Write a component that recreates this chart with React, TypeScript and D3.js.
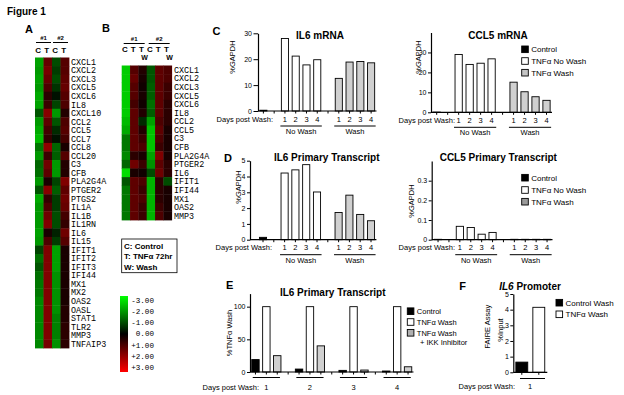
import { useEffect, useRef } from "react"
import * as d3 from "d3"

// heatmap A: columns C #1, T #1, C #2, T #2
const genesA = [
  "CXCL1", "CXCL2", "CXCL3", "CXCL5", "CXCL6", "IL8", "CXCL10", "CCL2", "CCL5", "CCL7", "CCL8",
  "CCL20", "C3", "CFB", "PLA2G4A", "PTGER2", "PTGS2", "IL1A", "IL1B", "IL1RN", "IL6", "IL15",
  "IFIT1", "IFIT2", "IFIT3", "IFI44", "MX1", "MX2", "OAS2", "OASL", "STAT1", "TLR2", "MMP3", "TNFAIP3",
]
const heatA = [
  [-1.9, 1.2, -0.9, 1.0], [-1.8, 1.4, -0.7, 1.0], [-1.9, 1.2, -0.9, 1.1], [-1.8, 0.9, -0.6, 1.2],
  [-2.0, 0.5, -0.2, 1.0], [-1.9, 0.7, -0.8, 0.9], [-1.0, 1.6, -1.8, 0.4], [-1.8, 1.1, -1.0, 0.9],
  [-2.0, 0.8, -0.5, 1.0], [-2.2, 0.6, -0.2, 0.8], [-1.4, 1.7, -1.2, 0.3], [-1.8, 0.7, -1.1, 1.0],
  [-1.2, 1.3, -1.8, 0.4], [-1.3, 1.1, -1.8, 0.4], [-1.8, 0.3, -0.8, 1.5], [-1.0, 1.6, -1.1, 1.1],
  [-2.0, 0.6, -0.7, 1.3], [-1.8, 0.9, -0.7, 1.2], [-1.8, 1.3, -0.9, 0.8], [-1.8, 1.5, -0.9, 0.6],
  [-1.9, 0.3, -0.4, 1.3], [-1.8, 0.9, -0.7, 1.0], [-0.8, 1.5, -1.9, 0.3], [-1.3, 1.5, -1.9, 0.3],
  [-1.0, 1.5, -1.9, 0.3], [-1.3, 1.5, -1.7, 0.3], [-1.4, 1.5, -1.7, 0.3], [-1.4, 1.5, -1.7, 0.3],
  [-1.6, 1.5, -1.7, 0.3], [-1.6, 1.5, -1.7, 0.4], [-1.6, 1.5, -1.5, 0.4], [-1.6, 1.5, -1.5, 0.5],
  [-1.6, 1.5, -1.5, 0.5], [-1.6, 1.4, -1.7, 0.5],
]
const colsA = ["C", "T", "C", "T"]

// heatmap B: columns C, T, T(W) for #1 and #2
const genesB = [
  "CXCL1", "CXCL2", "CXCL3", "CXCL5", "CXCL6", "IL8", "CCL2", "CCL5", "C3", "CFB",
  "PLA2G4A", "PTGER2", "IL6", "IFIT1", "IFI44", "MX1", "OAS2", "MMP3",
]
const heatB = [
  [-2.4, 1.0, 0.4, -1.0, 1.1, 0.9], [-2.4, 1.2, 0.3, -1.0, 1.1, 0.9], [-2.4, 1.0, 0.2, -1.1, 1.1, 0.7],
  [-2.4, 1.0, 0.3, -1.1, 1.1, 0.7], [-2.4, 0.8, 0.2, -1.3, 1.1, 0.5], [-2.4, 1.1, 0.4, -1.1, 1.1, 0.5],
  [-2.2, 1.1, -0.5, -1.9, 0.9, 0.5], [-2.0, 1.1, 0.4, -2.3, 1.1, 0.3], [-1.4, 1.1, 0.7, -2.3, 0.9, 0.3],
  [-1.4, 1.1, 0.9, -2.3, 0.7, 0.3], [-1.6, 0.5, 0.3, -1.9, 1.5, 0.3], [-1.2, 1.3, 0.7, -1.7, 1.1, 0.5],
  [-2.6, 0.3, 0.2, -0.9, 1.3, 0.5], [-1.0, 1.1, 0.9, -2.1, 0.5, -0.9], [-1.4, 1.1, 0.7, -2.1, 0.5, 0.3],
  [-1.4, 1.1, 0.9, -2.1, 0.5, 0.3], [-1.4, 1.1, 0.7, -2.1, 0.7, 0.3], [-1.4, 1.1, 0.7, -2.1, 0.9, 0.3],
]
const colsB = ["C", "T", "T", "C", "T", "T"]
const keyTicks = [-3, -2, -1, 0, 1, 2, 3]

// C / D bar panels
const dayLabels = ["1", "2", "3", "4"]
const il6MrnaControl = 0.3
const il6MrnaNoWash = [28, 21.2, 17.8, 19.8]
const il6MrnaWash = [12.6, 18.9, 19.1, 18.6]
const ccl5MrnaControl = 0.1
const ccl5MrnaNoWash = [29, 24, 24.6, 26.8]
const ccl5MrnaWash = [15.1, 10.3, 7.8, 6.0]
const il6PtControl = 0.15
const il6PtNoWash = [4.22, 4.42, 4.75, 3.02]
const il6PtWash = [1.72, 2.82, 1.6, 1.2]
const ccl5PtControl = 0.002
const ccl5PtNoWash = [0.068, 0.062, 0.028, 0.037]
const ccl5PtWash = [0.002, 0.002, 0.002, 0.002]
const cdLegend = ["Control", "TNFα No Wash", "TNFα Wash"]

// E
const eDays = ["1", "2", "3", "4"]
const eControl = [19, 4.5, 2.5, 1.5]
const eWash = [100, 100, 100, 100]
const eIkk = [25, 40, 3, 8]

// F
const fSeries = ["Control Wash", "TNFα Wash"]
const fValues = [0.65, 4.15]

const sans = "'Liberation Sans', Arial, sans-serif"
const mono = "'Liberation Mono', 'Courier New', monospace"
const grayFill = "#d0d0d0"

export default function App() {
  const svgRef = useRef<SVGSVGElement>(null)

  useEffect(() => {
    if (!svgRef.current) return
    const svg = d3.select(svgRef.current)
    svg.selectAll("*").remove()

    const txt = (x: number, y: number, s: string, size: number, o: any = {}) =>
      svg
        .append("text")
        .attr("x", x)
        .attr("y", y)
        .attr("font-family", o.family ?? sans)
        .attr("font-size", size)
        .attr("font-weight", o.weight ?? "normal")
        .attr("font-style", o.style ?? "normal")
        .attr("text-anchor", o.anchor ?? "start")
        .attr("transform", o.rotate ? `rotate(-90,${x},${y})` : null)
        .attr("fill", "#000")
        .text(s)

    const line = (x1: number, y1: number, x2: number, y2: number, w = 1) =>
      svg.append("line").attr("x1", x1).attr("y1", y1).attr("x2", x2).attr("y2", y2).attr("stroke", "#000").attr("stroke-width", w)

    const color = d3.scaleLinear<string>().domain([-3, 0, 3]).range(["#00ff00", "#000000", "#ff0000"]).clamp(true)

    txt(7, 15, "Figure 1", 10, { weight: "bold" })

    // ---------- heatmaps ----------
    const heatmap = (genes: string[], values: number[][], x0: number, x1: number, y0: number, y1: number, labelX: number) => {
      const x = d3.scaleBand<number>().domain(d3.range(values[0].length)).range([x0, x1])
      const y = d3.scaleBand<string>().domain(genes).range([y0, y1])
      const cells = genes.flatMap((g, i) => values[i].map((v, j) => ({ g, j, v })))
      svg
        .append("g")
        .selectAll("rect")
        .data(cells)
        .join("rect")
        .attr("x", (d) => x(d.j) || 0)
        .attr("y", (d) => y(d.g) || 0)
        .attr("width", x.bandwidth() + 0.4)
        .attr("height", y.bandwidth() + 0.4)
        .attr("fill", (d) => color(d.v))
      svg
        .append("g")
        .selectAll("text")
        .data(genes)
        .join("text")
        .attr("x", labelX)
        .attr("y", (d) => (y(d) || 0) + y.bandwidth() / 2)
        .attr("dy", "0.36em")
        .attr("font-family", mono)
        .attr("font-size", 8.4)
        .attr("fill", "#000")
        .text((d) => d)
      return x
    }

    txt(25, 33, "A", 11, { weight: "bold" })
    const xA = heatmap(genesA, heatA, 35, 69, 57.5, 348, 71)
    colsA.forEach((c, i) => txt((xA(i) || 0) + xA.bandwidth() / 2 - 1, 52.5, c, 8, { weight: "bold", anchor: "middle" }))
    ;[0, 2].forEach((i, k) => {
      const a = xA(i) || 0
      const b = (xA(i + 1) || 0) + xA.bandwidth()
      txt((a + b) / 2, 39.5, `#${k + 1}`, 6, { weight: "bold", anchor: "middle" })
      line(a + 1, 42.5, b - 1, 42.5)
    })

    txt(102, 32, "B", 11, { weight: "bold" })
    const xB = heatmap(genesB, heatB, 121.7, 171.7, 65.5, 220, 174)
    colsB.forEach((c, i) => txt((xB(i) || 0) + xB.bandwidth() / 2 - 1, 52, c, 8, { weight: "bold", anchor: "middle" }))
    ;[2, 5].forEach((i) => txt((xB(i) || 0) + xB.bandwidth() / 2 + 2, 59.5, "W", 7, { weight: "bold", anchor: "middle" }))
    ;[0, 3].forEach((i, k) => {
      const a = xB(i) || 0
      const b = (xB(i + 2) || 0) + xB.bandwidth()
      txt((a + b) / 2, 41, `#${k + 1}`, 6, { weight: "bold", anchor: "middle" })
      line(a + 2, 43.5, b - 2, 43.5)
    })

    // B key box
    svg.append("rect").attr("x", 121.7).attr("y", 239).attr("width", 55.3).attr("height", 33.7).attr("fill", "none").attr("stroke", "#000").attr("stroke-width", 0.8)
    ;["C: Control", "T: TNFα 72hr", "W: Wash"].forEach((s, i) => txt(124, 248.8 + i * 10.5, s, 8, { weight: "bold" }))

    // colour key
    const defs = svg.append("defs")
    const grad = defs.append("linearGradient").attr("id", "key-grad").attr("x1", "0%").attr("y1", "0%").attr("x2", "0%").attr("y2", "100%")
    grad
      .selectAll("stop")
      .data(keyTicks)
      .join("stop")
      .attr("offset", (d) => `${((d + 3) / 6) * 100}%`)
      .attr("stop-color", (d) => color(d))
    const keyY = d3.scaleLinear().domain([-3, 3]).range([300, 367.5])
    svg.append("rect").attr("x", 120).attr("y", 296).attr("width", 8).attr("height", 76).attr("fill", "url(#key-grad)")
    svg
      .append("g")
      .selectAll("text")
      .data(keyTicks)
      .join("text")
      .attr("x", 154)
      .attr("y", (d) => keyY(d))
      .attr("dy", "0.36em")
      .attr("text-anchor", "end")
      .attr("font-family", mono)
      .attr("font-size", 7.6)
      .attr("fill", "#000")
      .text((d) => (d > 0 ? "+" : "") + d.toFixed(2))

    // ---------- bar helpers ----------
    const yAxis = (y: d3.ScaleLinear<number, number>, x: number, ticks: number[], fmt: (d: number) => string, tick = 3) => {
      const g = svg.append("g").attr("transform", `translate(${x},0)`)
      g.call(d3.axisLeft(y).tickValues(ticks).tickFormat(fmt as any).tickSize(tick).tickSizeOuter(0).tickPadding(1.5))
      g.select(".domain").attr("stroke-width", 1.2)
      g.selectAll("text").attr("font-family", sans).attr("font-size", 7).attr("fill", "#000")
    }

    const xLine = (x0: number, x1: number, y0: number, centers: number[]) => {
      line(x0, y0, x1, y0, 1.2)
      centers.forEach((c) => line(c, y0, c, y0 + 2.5))
    }

    const bars = (data: { x: number; w: number; v: number; fill: string }[], y: d3.ScaleLinear<number, number>) => {
      svg
        .append("g")
        .selectAll("rect")
        .data(data)
        .join("rect")
        .attr("x", (d) => d.x)
        .attr("y", (d) => y(d.v))
        .attr("width", (d) => d.w)
        .attr("height", (d) => Math.max(0, y(0) - y(d.v)))
        .attr("fill", (d) => d.fill)
        .attr("stroke", "#000")
        .attr("stroke-width", 0.9)
    }

    const legend = (items: string[], fills: string[], sx: number, ys: number[], size: number) => {
      items.forEach((s, i) => {
        svg.append("rect").attr("x", sx).attr("y", ys[i] - 3.3).attr("width", 6.6).attr("height", 6.6).attr("fill", fills[i]).attr("stroke", "#000").attr("stroke-width", 0.9)
        txt(sx + 9.5, ys[i] + 3, s, size)
      })
    }

    const cdPanel = (o: any) => {
      const x = d3.scaleBand<number>().domain(d3.range(11)).range([o.start, o.end]).paddingInner(0.34).paddingOuter(0.17)
      const y = d3.scaleLinear().domain([0, o.yMax]).range([o.y0, o.yTop])
      const data = [
        { s: 0, v: o.control, fill: "#000" },
        ...o.noWash.map((v: number, i: number) => ({ s: 2 + i, v, fill: "#fff" })),
        ...o.wash.map((v: number, i: number) => ({ s: 7 + i, v, fill: grayFill })),
      ]
      bars(data.map((d) => ({ x: x(d.s) || 0, w: x.bandwidth(), v: d.v, fill: d.fill })), y)
      yAxis(y, o.axisX, o.ticks, o.fmt, o.tick ?? 3)
      const c = (s: number) => (x(s) || 0) + x.bandwidth() / 2
      xLine(o.axisX, o.end, o.y0, d3.range(11).map(c))
      txt(o.titleX, o.titleY, o.title, 10, { weight: "bold", anchor: "middle" })
      txt(o.yLabX, o.yLabY, "%GAPDH", 7.5, { anchor: "middle", rotate: true })
      txt(o.daysEnd, o.y0 + 10.5, "Days post Wash:", 7.5, { anchor: "end" })
      ;[2, 7].forEach((s0, g) => {
        dayLabels.forEach((d, i) => txt(c(s0 + i), o.y0 + 10.5, d, 7.5, { anchor: "middle" }))
        const a = (x(s0) || 0) - 1
        const b = (x(s0 + 3) || 0) + x.bandwidth() + 1
        line(a, o.y0 + 15, b, o.y0 + 15)
        txt((a + b) / 2, o.y0 + 23, g === 0 ? "No Wash" : "Wash", 7.5, { anchor: "middle" })
      })
      if (o.legendY) legend(cdLegend, ["#000", "#fff", o.legendGray], 521.7, o.legendY, 8)
    }

    // C
    txt(212.5, 35, "C", 11, { weight: "bold" })
    cdPanel({
      axisX: 258, start: 258, end: 376.5, y0: 111, yTop: 33.3, yMax: 30, ticks: [0, 10, 20, 30], fmt: d3.format("d"), tick: 4.5,
      control: il6MrnaControl, noWash: il6MrnaNoWash, wash: il6MrnaWash,
      title: "IL6 mRNA", titleX: 320, titleY: 38.5, yLabX: 234.5, yLabY: 57, daysEnd: 273,
    })
    cdPanel({
      axisX: 431, start: 431.2, end: 552, y0: 112.3, yTop: 32.5, yMax: 40, ticks: [0, 10, 20, 30], fmt: d3.format("d"),
      control: ccl5MrnaControl, noWash: ccl5MrnaNoWash, wash: ccl5MrnaWash,
      title: "CCL5 mRNA", titleX: 498, titleY: 38.5, yLabX: 420.5, yLabY: 57, daysEnd: 455,
      legendY: [49.3, 61, 72.7], legendGray: "#c4c4c4",
    })

    // D
    txt(224, 162, "D", 11, { weight: "bold" })
    cdPanel({
      axisX: 250, start: 257.6, end: 376.4, y0: 239.7, yTop: 160.7, yMax: 5, ticks: [0, 1, 2, 3, 4, 5], fmt: d3.format("d"),
      control: il6PtControl, noWash: il6PtNoWash, wash: il6PtWash,
      title: "IL6 Primary Transcript", titleX: 326.7, titleY: 161, yLabX: 240.5, yLabY: 187, daysEnd: 272,
    })
    cdPanel({
      axisX: 431.7, start: 432.6, end: 552.5, y0: 239.7, yTop: 161, yMax: 0.4, ticks: [0, 0.1, 0.2, 0.3],
      fmt: (d: number) => (d === 0 ? "0" : d3.format(".1f")(d)),
      control: ccl5PtControl, noWash: ccl5PtNoWash, wash: ccl5PtWash,
      title: "CCL5 Primary Transcript", titleX: 498.3, titleY: 161, yLabX: 414, yLabY: 201, daysEnd: 455,
      legendY: [177.7, 190, 201.7], legendGray: "#9a9a9a",
    })

    // E
    txt(226, 289, "E", 11, { weight: "bold" })
    {
      const x = d3.scaleBand<number>().domain(d3.range(15)).range([250, 413.5]).paddingInner(0.32).paddingOuter(0.16)
      const y = d3.scaleLinear().domain([0, 120]).range([372, 293.6])
      const data = eDays.flatMap((_, g) => [
        { s: g * 4, v: eControl[g], fill: "#000" },
        { s: g * 4 + 1, v: eWash[g], fill: "#fff" },
        { s: g * 4 + 2, v: eIkk[g], fill: grayFill },
      ])
      bars(data.map((d) => ({ x: x(d.s) || 0, w: x.bandwidth(), v: d.v, fill: d.fill })), y)
      yAxis(y, 250, [0, 50, 100], d3.format("d"))
      const c = (s: number) => (x(s) || 0) + x.bandwidth() / 2
      xLine(250, 413.5, 372, d3.range(15).map(c))
      txt(332.7, 296, "IL6 Primary Transcript", 10, { weight: "bold", anchor: "middle" })
      txt(231.5, 333, "%TNFα Wash", 7.5, { anchor: "middle", rotate: true })
      txt(259, 390, "Days post Wash:", 7.5, { anchor: "end" })
      eDays.forEach((d, g) => {
        const a = (x(g * 4) || 0) + 1
        const b = (x(g * 4 + 2) || 0) + x.bandwidth() - 1
        line(a, 377.5, b, 377.5)
        txt(c(g * 4 + 1), 390, d, 7.5, { anchor: "middle" })
      })
      legend(["Control", "TNFα Wash", "TNFα Wash"], ["#000", "#fff", "#b0b0b0"], 407.3, [311.2, 322, 332.8], 7.5)
      txt(420, 345, "+ IKK Inhibitor", 7.5)
    }

    // F
    txt(459.3, 290, "F", 11, { weight: "bold" })
    {
      const x = d3.scaleBand<string>().domain(fSeries).range([513.3, 547.3]).paddingInner(0.3).paddingOuter(0.15)
      const y = d3.scaleLinear().domain([0, 5]).range([372.3, 294])
      bars(fSeries.map((s, i) => ({ x: x(s) || 0, w: x.bandwidth(), v: fValues[i], fill: i === 0 ? "#000" : "#fff" })), y)
      yAxis(y, 513.3, [0, 1, 2, 3, 4, 5], d3.format("d"))
      xLine(513.3, 547.3, 372.3, fSeries.map((s) => (x(s) || 0) + x.bandwidth() / 2))
      const t = svg.append("text").attr("x", 530).attr("y", 289.5).attr("text-anchor", "middle").attr("font-family", sans).attr("font-size", 10).attr("font-weight", "bold")
      t.append("tspan").attr("font-style", "italic").text("IL6")
      t.append("tspan").text(" Promoter")
      txt(490.5, 326.7, "FAIRE Assay", 7.5, { anchor: "middle", rotate: true })
      txt(502.5, 330, "%Input", 7.5, { anchor: "middle", rotate: true })
      line(520, 378.5, 545, 378.5)
      txt(515, 389, "Days post Wash:", 7.5, { anchor: "end" })
      txt(530, 389, "1", 7.5, { anchor: "middle" })
      legend(fSeries, ["#000", "#fff"], 556, [302.7, 314.3], 8)
    }
  }, [])

  return (
    <svg
      ref={svgRef}
      width={624}
      height={395}
      style={{ position: "absolute", left: 0, top: 0, background: "#fff" }}
    />
  )
}
